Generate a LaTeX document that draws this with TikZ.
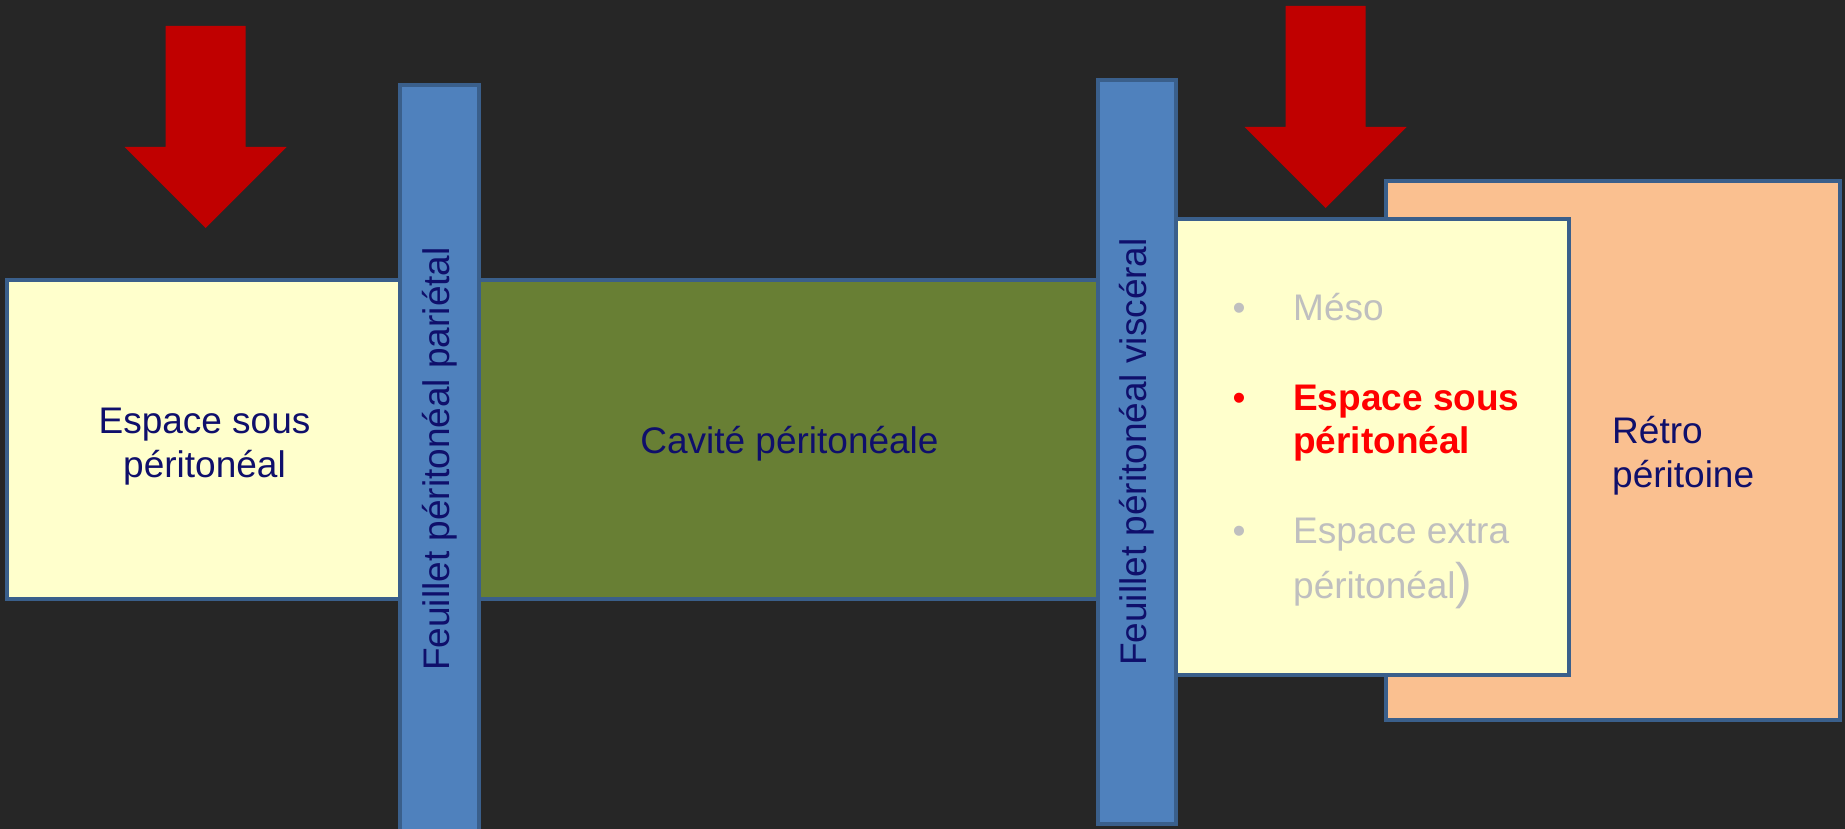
\documentclass[tikz,border=0pt]{standalone}
\usepackage{fontspec}
\setmainfont{Liberation Sans}
\usepackage{xcolor}
\usepackage{tikz}
\usetikzlibrary{positioning}

\definecolor{fond}{HTML}{262626}
\definecolor{contour}{HTML}{3A5F8B}
\definecolor{bleu}{HTML}{4F81BD}
\definecolor{jaune}{HTML}{FFFFCC}
\definecolor{olive}{HTML}{687F34}
\definecolor{peche}{HTML}{FAC090}
\definecolor{rouge}{HTML}{C00000}
\definecolor{encre}{HTML}{0F0F6B}
\definecolor{grisclair}{HTML}{BFBFBF}

\begin{document}
\begin{tikzpicture}[
  x=1pt, y=-1pt,
  font=\fontsize{37}{44}\selectfont,
  box/.style={draw=contour, rectangle, align=center, line width=4pt, inner sep=0pt, text=encre},
  espace/.style={box, fill=jaune},
  cavite/.style={box, fill=olive},
  feuillet/.style={box, fill=bleu, rotate=90},
  retro/.style={box, fill=peche},
  puce/.style={anchor=base, inner sep=0pt},
  item/.style={anchor=base west, align=left, inner sep=0pt},
  fleche/.style={fill=rouge}
]
\fill[fond] (0,0) rectangle (1845,829);
\useasboundingbox (0,0) rectangle (1845,829);

\node[espace, minimum width=395pt, minimum height=319pt] (sous) at (204.5,439.5) {};
\node[text=encre, align=center, inner sep=0pt] (soustxt) at (204.5,447) {Espace sous\\péritonéal};
\node[cavite, minimum width=621pt, minimum height=319pt] (cavite) at (789.5,439.5) {};
\node[text=encre, inner sep=0pt] (cavitetxt) at (789.5,444) {Cavité péritonéale};

\node[feuillet, minimum width=748pt, minimum height=79pt] (parietal) at (439.5,459) {Feuillet péritonéal pariétal};
\node[feuillet, minimum width=744pt, minimum height=78pt] (visceral) at (1137,452) {Feuillet péritonéal viscéral};

\node[retro, minimum width=454pt, minimum height=539pt] (retro) at (1613,450.5) {};
\node[espace, minimum width=393pt, minimum height=456pt] (sousvisc) at (1372.5,447) {};

% liste
\node[puce, text=grisclair] (b1) at (1239,320) {•};
\node[item, text=grisclair] (meso) at (1293,320) {Méso};
\node[puce, text=red] (b2) at (1239,410) {•};
\node[item, text=red, font=\fontsize{37}{43}\selectfont\bfseries] (sousp) at (1293,453) {Espace sous\\péritonéal};
\node[puce, text=grisclair] (b3) at (1239,543) {•};
\node[item, text=grisclair, font=\fontsize{37}{55}\selectfont] (extra) at (1293,598) {Espace extra\\péritonéal{\fontsize{50}{50}\selectfont )}};

\node[anchor=base west, align=left, inner sep=0pt, text=encre] (retrotxt) at (1612,487) {Rétro\\péritoine};

% fleches
\foreach \c/\t in {205.5/26, 1325.5/6}
  \fill[fleche] (\c-40,\t) -- (\c+40,\t) -- (\c+40,\t+121) -- (\c+81,\t+121)
    -- (\c,\t+202) -- (\c-81,\t+121) -- (\c-40,\t+121) -- cycle;
\end{tikzpicture}
\end{document}
